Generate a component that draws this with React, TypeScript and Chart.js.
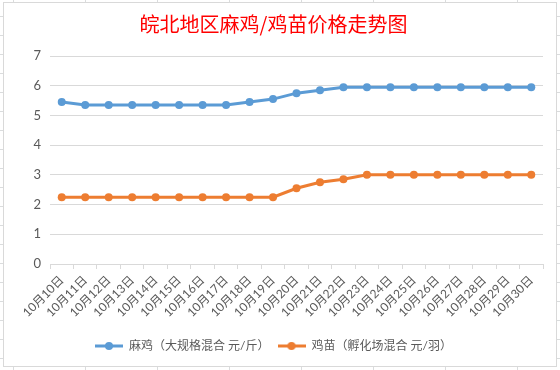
import React, { useEffect, useRef } from "react";
import { Chart, registerables } from "chart.js";

Chart.register(...registerables);

const titleText = "皖北地区麻鸡/鸡苗价格走势图";
const categories = [
  "10月10日", "10月11日", "10月12日", "10月13日", "10月14日", "10月15日", "10月16日",
  "10月17日", "10月18日", "10月19日", "10月20日", "10月21日", "10月22日", "10月23日",
  "10月24日", "10月25日", "10月26日", "10月27日", "10月28日", "10月29日", "10月30日",
];
const seriesNames = ["麻鸡（大规格混合 元/斤）", "鸡苗（孵化场混合 元/羽）"];
const maJi = [5.45, 5.35, 5.35, 5.35, 5.35, 5.35, 5.35, 5.35, 5.45, 5.55, 5.75, 5.85, 5.95, 5.95, 5.95, 5.95, 5.95, 5.95, 5.95, 5.95, 5.95];
const jiMiao = [2.25, 2.25, 2.25, 2.25, 2.25, 2.25, 2.25, 2.25, 2.25, 2.25, 2.55, 2.75, 2.85, 3, 3, 3, 3, 3, 3, 3, 3];
const yMin = 0;
const yMax = 7;
const yStep = 1;

const BLUE = "#5B9BD5";
const ORANGE = "#ED7D31";
const FONT = "Lato, 'Noto Sans CJK SC', sans-serif";

function makeMarker(color: string): HTMLCanvasElement {
  const c = document.createElement("canvas");
  c.width = 28;
  c.height = 10;
  const ctx = c.getContext("2d")!;
  ctx.strokeStyle = color;
  ctx.lineWidth = 3;
  ctx.beginPath();
  ctx.moveTo(0, 5);
  ctx.lineTo(28, 5);
  ctx.stroke();
  ctx.fillStyle = color;
  ctx.beginPath();
  ctx.arc(14, 5, 4, 0, Math.PI * 2);
  ctx.fill();
  return c;
}

export default function App() {
  const ref = useRef<HTMLCanvasElement | null>(null);
  useEffect(() => {
    if (!ref.current) return;
    const markers = [makeMarker(BLUE), makeMarker(ORANGE)];
    const chart = new Chart(ref.current, {
      type: "line",
      data: {
        labels: categories,
        datasets: [
          {
            label: seriesNames[0],
            data: maJi,
            borderColor: BLUE,
            backgroundColor: BLUE,
            borderWidth: 3,
            pointRadius: 4,
            pointBorderWidth: 0,
            pointBackgroundColor: BLUE,
            tension: 0,
          },
          {
            label: seriesNames[1],
            data: jiMiao,
            borderColor: ORANGE,
            backgroundColor: ORANGE,
            borderWidth: 3,
            pointRadius: 4,
            pointBorderWidth: 0,
            pointBackgroundColor: ORANGE,
            tension: 0,
          },
        ],
      },
      options: {
        animation: false,
        responsive: false,
        maintainAspectRatio: false,
        layout: { padding: { left: 0, right: 13, top: 0, bottom: 4 } },
        plugins: {
          tooltip: { enabled: false },
          title: {
            display: true,
            text: titleText,
            color: "#FF0000",
            font: { family: "'Noto Sans CJK SC', sans-serif", size: 20, weight: "normal" },
            padding: { top: 9, bottom: 20 },
          },
          legend: {
            position: "bottom",
            labels: {
              usePointStyle: true,
              pointStyleWidth: 28,
              padding: 8,
              color: "#595959",
              font: { family: FONT, size: 12 },
              generateLabels: (ch: any) =>
                ch.data.datasets.map((ds: any, i: number) => ({
                  text: ds.label,
                  fillStyle: ds.borderColor,
                  strokeStyle: ds.borderColor,
                  lineWidth: 0,
                  pointStyle: markers[i],
                  hidden: false,
                  datasetIndex: i,
                  fontColor: "#595959",
                })),
            },
          },
        },
        scales: {
          x: {
            offset: true,
            grid: {
              offset: true,
              drawOnChartArea: false,
              drawTicks: true,
              tickLength: 5,
              color: "#D9D9D9",
            },
            border: { display: true, color: "#D9D9D9" },
            ticks: {
              autoSkip: false,
              minRotation: 45,
              maxRotation: 45,
              color: "#595959",
              padding: 4,
              font: { family: FONT, size: 12 },
            },
            afterFit: (s: any) => {
              s.height = 68;
            },
          },
          y: {
            min: yMin,
            max: yMax,
            grid: { color: "#D9D9D9", drawTicks: false, lineWidth: 1 },
            border: { display: false },
            ticks: {
              stepSize: yStep,
              color: "#595959",
              padding: 9,
              font: { family: FONT, size: 13 },
            },
            afterFit: (s: any) => {
              s.width = 46;
            },
          },
        },
      },
    } as any);
    return () => chart.destroy();
  }, []);

  return (
    <div
      style={{
        position: "fixed",
        left: 0,
        top: 0,
        width: 560,
        height: 370,
        background: "#fff",
        backgroundImage:
          "repeating-linear-gradient(to right, transparent 0px, transparent 13px, #DADCDD 13px, #DADCDD 14px, transparent 14px, transparent 72px), repeating-linear-gradient(to bottom, transparent 0px, transparent 16px, #DADCDD 16px, #DADCDD 17px, transparent 17px, transparent 19px)",
      }}
    >
      <div
        style={{
          position: "absolute",
          left: 3,
          top: 2,
          width: 554,
          height: 365,
          boxSizing: "border-box",
          border: "1px solid #D9D9D9",
          background: "#fff",
        }}
      >
        <canvas ref={ref} width={552} height={363} style={{ display: "block" }} />
      </div>
    </div>
  );
}
